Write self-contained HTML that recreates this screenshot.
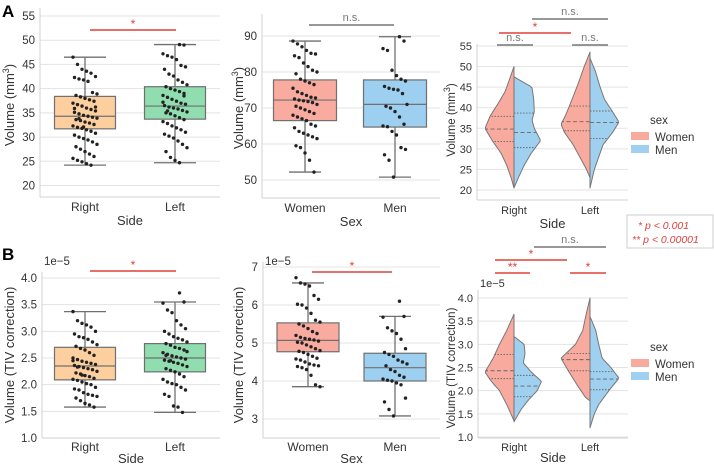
<!DOCTYPE html>
<html><head><meta charset="utf-8"><style>
body{margin:0;background:#fff;}
svg{display:block;font-family:"Liberation Sans",Arial,sans-serif;}
</style></head><body>
<svg id="fig" width="714" height="465" viewBox="0 0 714 465" xmlns="http://www.w3.org/2000/svg"></svg>
<script>
// ---------- data ----------
const sideCats = ["Right","Left"];
const sexCats = ["Women","Men"];
const a1Box = [[24.2,31.7,34.3,38.4,46.5],[24.7,33.7,36.4,40.4,49.1]];
const a1PtsR = [46.5,45,44,43.6,43.2,42.5,42.3,42,41.8,41.5,39.2,38.9,38.6,38.3,38,37.7,37.4,37,36.7,36.4,36,35.7,35.4,35.1,34.8,34.5,34.3,34.1,33.9,33.6,33.4,33.1,32.9,32.6,32.3,32,31.8,31.5,31.2,30.8,30.4,30,29.7,29.4,29,28.5,28,27.5,27,26.5,26,25.6,25.2,24.9,24.5,24.2,36.2,35.9,33.8,32.1];
const a1PtsL = [49.1,49,47.2,46.8,46.5,46,44.8,44.5,44,43,42.6,41.8,41.3,40.8,40.4,40,39.7,39.4,39,38.6,38.2,37.8,37.4,37,36.8,36.5,36.2,36,35.8,35.5,35.2,35,34.8,34.4,34,33.6,33.2,32.8,32.3,31.9,31.5,31,30.6,30.2,29.8,29.2,28.5,27.8,27,25.8,25.2,24.7,38.5,37.2,35.4];
const a2Box = [[52.2,66.5,72.2,77.8,88.6],[50.8,64.7,71,77.8,89.8]];
const a2PtsW = [88.6,87.8,87,86,85.2,85,84.5,84,82.5,81.5,80.5,80,79.5,78,77.5,77,76.5,75.5,74.5,74,73.5,73,72.8,72.5,72.2,72,71.8,71.5,71,70.5,70,69.5,69,68.5,68,67.5,67,66.5,65.5,65,64.5,63.5,63,62.5,62,61.5,59.5,59,57.5,55.5,52.2];
const a2PtsM = [89.8,88.6,86.5,86,80.5,79,78,77.5,76,75.5,75.2,75,74,71,70.5,70,69,67.5,65.5,65,64.8,63.5,62.5,59,58.5,57,55.5,50.8];
const b1Box = [[1.58,2.09,2.35,2.7,3.37],[1.48,2.24,2.5,2.77,3.55]];
const b1PtsR = [3.37,3.2,3.15,3.12,3.08,3.0,2.95,2.9,2.88,2.85,2.8,2.75,2.72,2.68,2.65,2.6,2.55,2.5,2.47,2.44,2.42,2.4,2.38,2.36,2.34,2.32,2.3,2.28,2.25,2.22,2.2,2.17,2.15,2.12,2.1,2.08,2.05,2.02,2.0,1.95,1.92,1.9,1.85,1.82,1.8,1.78,1.75,1.7,1.65,1.62,1.58,2.45,2.33,2.18];
const b1PtsL = [3.72,3.55,3.53,3.4,3.35,3.2,3.12,3.05,3.0,2.95,2.9,2.87,2.84,2.8,2.77,2.74,2.7,2.68,2.65,2.6,2.57,2.54,2.52,2.5,2.48,2.46,2.44,2.42,2.4,2.37,2.34,2.3,2.27,2.24,2.2,2.15,2.1,2.05,2.02,2.0,1.95,1.9,1.82,1.78,1.6,1.58,1.48,2.62,2.55,2.45];
const b2Box = [[3.85,4.77,5.07,5.53,6.58],[3.08,4.0,4.35,4.73,5.7]];
const b2PtsW = [6.72,6.58,6.55,6.5,6.25,6.15,6.02,6.0,5.92,5.78,5.6,5.55,5.5,5.45,5.38,5.3,5.25,5.2,5.15,5.12,5.1,5.08,5.05,5.02,5.0,4.95,4.9,4.85,4.8,4.78,4.75,4.7,4.65,4.6,4.58,4.55,4.5,4.45,4.42,4.4,4.38,4.35,4.3,4.15,3.9,3.85];
const b2PtsM = [6.1,5.7,5.68,5.4,5.32,5.25,5.1,4.85,4.75,4.7,4.65,4.55,4.5,4.45,4.4,4.3,4.25,4.15,4.1,4.05,4.02,4.0,3.95,3.9,3.55,3.45,3.25,3.08];
// violin densities: [value, relative half-width]
const a3RW = [[50,0],[47,0.15],[44,0.3],[41,0.55],[38,0.82],[35,1.0],[32,0.75],[29,0.45],[26,0.25],[23,0.1],[20.5,0]];
const a3RM = [[47.5,0],[45,0.62],[42,0.68],[39,0.7],[37,0.62],[35,0.7],[32,0.92],[29,0.6],[26,0.35],[23,0.15],[20.5,0]];
const a3LW = [[53.5,0],[50,0.2],[46,0.4],[42,0.62],[38,0.85],[36,1.0],[34,0.88],[31,0.58],[28,0.35],[25,0.12],[23,0]];
const a3LM = [[52,0],[49,0.18],[45,0.35],[42,0.5],[39,0.78],[36.5,1.0],[34,0.78],[31,0.45],[28,0.3],[25,0.15],[20.5,0]];
const a3Q = [[31.8,34.8,37.9],[30.3,34,38.7],[34.4,36.6,40.4],[32.5,36.4,39.2]];
const b3RW = [[3.65,0],[3.3,0.25],[3.0,0.5],[2.7,0.72],[2.4,1.0],[2.2,0.78],[2.0,0.5],[1.7,0.25],[1.35,0]];
const b3RM = [[3.17,0],[3.0,0.35],[2.8,0.38],[2.6,0.32],[2.4,0.6],[2.2,0.95],[2.0,0.8],[1.8,0.5],[1.6,0.25],[1.33,0]];
const b3LW = [[4.0,0],[3.6,0.15],[3.3,0.25],[3.0,0.5],[2.7,1.0],[2.4,0.72],[2.1,0.42],[1.85,0.15],[1.78,0]];
const b3LM = [[3.6,0],[3.3,0.2],[3.0,0.3],[2.7,0.42],[2.5,0.72],[2.27,1.0],[2.0,0.65],[1.7,0.3],[1.5,0.15],[1.2,0]];
const b3Q = [[2.26,2.43,2.78],[1.87,2.1,2.33],[2.43,2.67,2.8],[2.02,2.25,2.41]];
const ticksA1 = [20,25,30,35,40,45,50,55];
const ticksA2 = [50,60,70,80,90];
const ticksB1 = ["1.0","1.5","2.0","2.5","3.0","3.5","4.0"];
const ticksB2 = [3,4,5,6,7];

// ---------- helpers ----------
const svg = document.getElementById('fig');
const NS = "http://www.w3.org/2000/svg";
function mk(tag, attrs, parent){
  const e = document.createElementNS(NS, tag);
  for (const k in attrs) e.setAttribute(k, attrs[k]);
  (parent||svg).appendChild(e);
  return e;
}
function txt(s, x, y, size, opts, parent){
  const t = mk('text', Object.assign({x:x, y:y, 'font-size':size, fill:'#333'}, opts||{}), parent);
  t.textContent = s;
  return t;
}
function scale(v0,y0,v1,y1){ return v => y0 + (v - v0) * (y1 - y0) / (v1 - v0); }

function axes(p, name){
  const g = mk('g', {});
  
  
  const y = p.y;
  const fs = p.tfs || 11.5;
  p.ticks.forEach(t => {
    const yy = y(parseFloat(t));
    const l = mk('line', {x1:p.left, x2:p.right, y1:yy, y2:yy, stroke:'#e3e3e3', 'stroke-width':1}, g);
    
    
    const tl = txt(String(t), p.left - 5, yy + 4, fs, {'text-anchor':'end'}, g);
    
    
  });
  mk('line', {x1:p.left, x2:p.left, y1:p.top, y2:p.bottom, stroke:'#d0d0d0'}, g);
  mk('line', {x1:p.left, x2:p.right, y1:p.bottom, y2:p.bottom, stroke:'#d0d0d0'}, g);
  p.cats.forEach((c,i) => {
    const cl = txt(c, p.centers[i], p.bottom + (p.cy||14), p.cfs||12, {'text-anchor':'middle'}, g);
    
    
  });
  const xl = txt(p.xlabel, (p.left+p.right)/2, p.bottom + (p.xy||28), 13, {'text-anchor':'middle'}, g);
  
  
  const yl = txt('', 0, 0, p.yfs||13, {'text-anchor':'middle', transform:'translate('+p.ylx+','+p.yly+') rotate(-90)'}, g);
  
  
  if (p.mm){
    yl.textContent = 'Volume (mm';
    const s = mk('tspan', {'font-size':9, dy:-5}, yl); s.textContent = '3';
    const s2 = mk('tspan', {dy:5}, yl); s2.textContent = ')';
  } else yl.textContent = 'Volume (TIV correction)';
  if (p.exp){
    const e = txt('1e\u22125', p.left + 2, p.expY, fs, {}, g);
    
    
  }
}

function boxPanel(p, boxes, pts, colors, name){
  axes(p, name + '-axes');
  boxes.forEach((b,i) => {
    const g = mk('g', {});
    
    
    const cx = p.centers[i], y = p.y;
    mk('line', {x1:cx, x2:cx, y1:y(b[0]), y2:y(b[1]), stroke:'#707070', 'stroke-width':1.3}, g);
    mk('line', {x1:cx, x2:cx, y1:y(b[3]), y2:y(b[4]), stroke:'#707070', 'stroke-width':1.3}, g);
    mk('line', {x1:cx-p.cap, x2:cx+p.cap, y1:y(b[0]), y2:y(b[0]), stroke:'#707070', 'stroke-width':1.3}, g);
    mk('line', {x1:cx-p.cap, x2:cx+p.cap, y1:y(b[4]), y2:y(b[4]), stroke:'#707070', 'stroke-width':1.3}, g);
    mk('rect', {x:cx-p.half, y:y(b[3]), width:2*p.half, height:y(b[1])-y(b[3]), fill:colors[i], stroke:'#707070', 'stroke-width':1.2}, g);
    mk('line', {x1:cx-p.half, x2:cx+p.half, y1:y(b[2]), y2:y(b[2]), stroke:'#707070', 'stroke-width':1.2}, g);
    pts[i].forEach((v,k) => {
      const j = (((k*37 + i*11) % 17) / 16 - 0.5) * 2 * p.jit;
      const c = mk('circle', {cx:cx + j, cy:y(v), r:1.7, fill:'#222'}, g);
      
      
    });
  });
}

function halfViolin(p, cx, dens, dir, maxw, fill, q, g){
  const y = p.y;
  const w = v => {
    for (let k=0;k<dens.length-1;k++){
      const a=dens[k], b=dens[k+1];
      if (v<=a[0] && v>=b[0]) return a[1] + (b[1]-a[1])*(v-a[0])/(b[0]-a[0]);
    }
    return 0;
  };
  const n = 60, top = dens[0][0], bot = dens[dens.length-1][0];
  let d = 'M'+cx+','+y(top);
  for (let k=0;k<=n;k++){
    const v = top + (bot-top)*k/n;
    d += ' L'+(cx + dir*w(v)*maxw).toFixed(2)+','+y(v).toFixed(2);
  }
  d += ' L'+cx+','+y(bot)+' Z';
  const path = mk('path', {d:d, fill:fill, stroke:'#777', 'stroke-width':1, 'stroke-linejoin':'round'}, g);
  
  
  q.forEach((qv,k) => {
    mk('line', {x1:cx, x2:cx + dir*w(qv)*maxw, y1:y(qv), y2:y(qv), stroke:'#666', 'stroke-width':0.9,
      'stroke-dasharray': k===1 ? '4,2.5' : '1.5,1.5'}, g);
  });
}

function violinPanel(p, dens, qs, name){
  axes(p, name + '-axes');
  const cols = ['#f9aa9e','#9fd0f0'];
  [0,1].forEach(i => {
    const g = mk('g', {});
    
    
    halfViolin(p, p.centers[i], dens[2*i], -1, 29, cols[0], qs[2*i], g);
    halfViolin(p, p.centers[i], dens[2*i+1], 1, 29, cols[1], qs[2*i+1], g);
  });
  const lg = mk('g', {});
  
  
  txt('sex', 650, p.legY, 11.5, {}, lg);
  mk('rect', {x:631, y:p.legY+8, width:18, height:8, fill:cols[0]}, lg);
  txt('Women', 655, p.legY+17, 11.5, {}, lg);
  mk('rect', {x:631, y:p.legY+21, width:18, height:8, fill:cols[1]}, lg);
  txt('Men', 655, p.legY+30, 11.5, {}, lg);
}

function sig(x1,x2,y,label,red,name){
  const g = mk('g', {});
  
  
  const c = red ? '#e0403a' : '#777';
  mk('line', {x1:x1, x2:x2, y1:y, y2:y, stroke:c, 'stroke-width':1.5}, g);
  txt(label, (x1+x2)/2, red ? y-2 : y-4, red ? 12 : 11, {'text-anchor':'middle', fill:c}, g);
}

// ---------- panels ----------
const pA1 = {left:40,right:220,top:8,bottom:197,y:scale(55,16,20,185.5),ticks:ticksA1,cats:sideCats,centers:[85,175],half:30.5,cap:21,jit:12,xlabel:'Side',ylx:14,yly:105,mm:true};
boxPanel(pA1, a1Box, [a1PtsR,a1PtsL], ['#fdcf9e','#90ddb0'], 'panel-a-side');
const pA2 = {left:262,right:440,top:14,bottom:198,y:scale(90,36,50,180),ticks:ticksA2,cats:sexCats,centers:[305,395],half:31.5,cap:16,jit:12,xlabel:'Sex',ylx:243,yly:108,mm:true};
boxPanel(pA2, a2Box, [a2PtsW,a2PtsM], ['#faaba0','#9ccff0'], 'panel-a-sex');
const pA3 = {left:477,right:628,top:44,bottom:200,y:scale(55,46,20,190),ticks:ticksA1,cats:sideCats,centers:[514,590],xlabel:'Side',ylx:455,yly:120,mm:true,legY:124,tfs:11,yfs:11.5,cfs:11};
violinPanel(pA3, [a3RW,a3RM,a3LW,a3LM], a3Q, 'panel-a-violin');

const pB1 = {left:42,right:220,top:272,bottom:438,y:scale(4,278,1,438),ticks:ticksB1,cats:sideCats,centers:[85,175],half:30.5,cap:21,jit:12,xlabel:'Side',ylx:14,yly:355,exp:true,expY:265,cy:13,xy:25};
boxPanel(pB1, b1Box, [b1PtsR,b1PtsL], ['#fdcf9e','#90ddb0'], 'panel-b-side');
const pB2 = {left:263,right:440,top:262,bottom:438,y:scale(7,267,3,419),ticks:ticksB2,cats:sexCats,centers:[308,395],half:31,cap:16,jit:12,xlabel:'Sex',ylx:243,yly:355,exp:true,expY:265,cy:13,xy:25};
boxPanel(pB2, b2Box, [b2PtsW,b2PtsM], ['#faaba0','#9ccff0'], 'panel-b-sex');
const pB3 = {left:478,right:628,top:290,bottom:438,y:scale(4,298,1,437),ticks:ticksB1,cats:sideCats,centers:[514,590],xlabel:'Side',ylx:455,yly:368,exp:true,expY:287,legY:351,tfs:11,yfs:11.5,cfs:11,cy:13,xy:24};
violinPanel(pB3, [b3RW,b3RM,b3LW,b3LM], b3Q, 'panel-b-violin');

// significance bars
sig(90,176,30,'*',true,'sig-a-side');
sig(309,394,25,'n.s.',false,'sig-a-sex');
sig(532,608,19,'n.s.',false,'sig-a-ns-top');
sig(499,571,33,'*',true,'sig-a-star');
sig(497,533,45,'n.s.',false,'sig-a-ns-right');
sig(572,608,45,'n.s.',false,'sig-a-ns-left');
sig(90,176,271,'*',true,'sig-b-side');
sig(312,392,272,'*',true,'sig-b-sex');
sig(534,606,247,'n.s.',false,'sig-b-ns-top');
sig(495,567,260,'*',true,'sig-b-star');
sig(495,530,273,'**',true,'sig-b-dstar');
sig(570,606,273,'*',true,'sig-b-star-left');

// panel letters
const la = txt('A', 2, 17, 17, {'font-weight':'bold', fill:'#000'});  
const lb = txt('B', 2, 260, 17, {'font-weight':'bold', fill:'#000'});  

// p-value key
const pk = mk('g', {});


mk('rect', {x:627, y:215, width:86, height:33, fill:'#fff', stroke:'#ccc'}, pk);
txt('* p < 0.001', 638, 229, 10.5, {fill:'#e0403a', 'font-style':'italic'}, pk);
txt('** p < 0.00001', 632, 243, 10.5, {fill:'#e0403a', 'font-style':'italic'}, pk);
</script>
</body></html>
